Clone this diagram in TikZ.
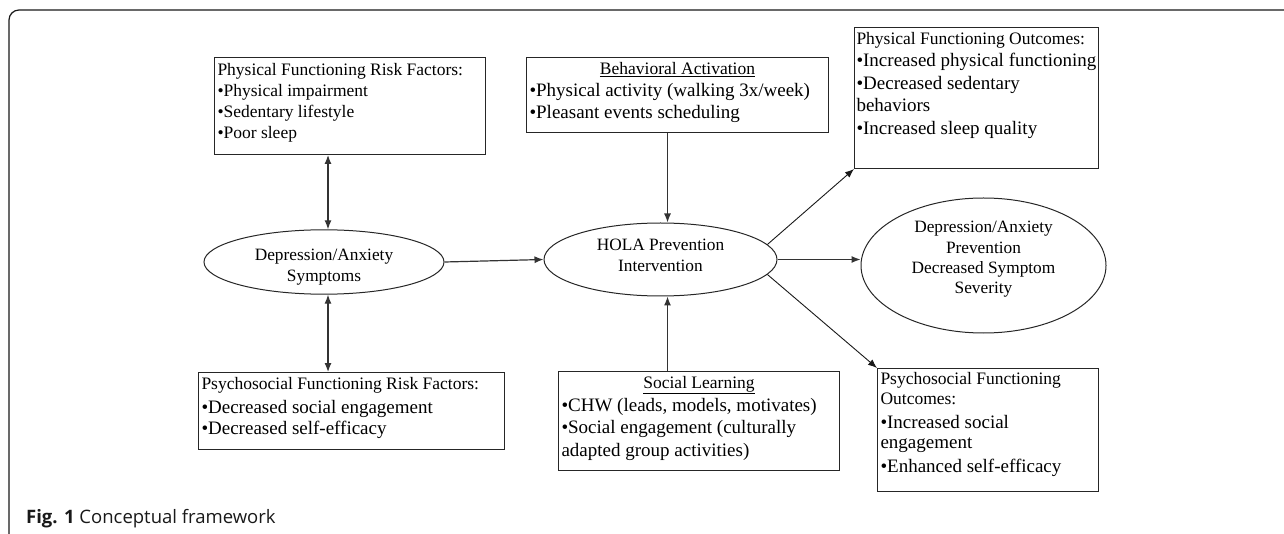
\documentclass[tikz,border=0pt]{standalone}
\usepackage{fontspec}
\setmainfont{Liberation Serif}
\newfontfamily\capfont{Open Sans}
\usetikzlibrary{arrows.meta,shapes.geometric}
\newcommand{\ttl}{\fontsize{17.5}{20}\selectfont}
\newcommand{\bul}{\fontsize{19}{22.5}\selectfont}
\newcommand{\bulsm}{\fontsize{17.5}{21}\selectfont}
\tikzset{
  box/.style={draw=black!85, line width=1pt, rectangle, inner xsep=3pt, inner ysep=0pt, anchor=north west},
  oval/.style={draw=black!85, line width=1pt, ellipse, inner sep=0pt, align=center,
    font=\fontsize{17.3}{21}\selectfont},
  conn/.style={draw=black!80, line width=1.2pt, -{Latex[length=9pt,width=7pt]}},
  thinconn/.style={draw=black!90, line width=0.9pt, -{Latex[length=9pt,width=7pt]}},
  both/.style={draw=black!80, line width=1.2pt, {Latex[length=9pt,width=7pt]}-{Latex[length=9pt,width=7pt]}},
  frame/.style={draw=black!90, line width=1.2pt, rounded corners=10pt}
}
\begin{document}
\begin{tikzpicture}[x=1pt,y=-1pt]
\useasboundingbox (0,0) rectangle (1284,534);
\draw[frame] (1284,10) -- (9,10) -- (9,534);

% boxes
\node[box] (pfrf) at (214,57) {\parbox[c][97pt][t]{265pt}{\raggedright\ttl\rule{0pt}{18.5pt}Physical Functioning Risk Factors:\par\bulsm •Physical impairment\\•Sedentary lifestyle\\•Poor sleep}};

\node[box] (ba) at (526,57) {\parbox[c][75pt][t]{296pt}{\ttl\centering\rule{0pt}{17pt}\underline{Behavioral Activation}\par\raggedright\bul •Physical activity (walking 3x/week)\\[-1pt]•Pleasant events scheduling}};

\node[box, inner xsep=2pt] (pfo) at (854,27) {\parbox[c][141pt][t]{240pt}{\raggedright\ttl\rule{0pt}{17pt}Physical Functioning Outcomes:\par\bul •Increased physical functioning\\•Decreased sedentary\\behaviors\\•Increased sleep quality}};

\node[box] (psyrf) at (198,372) {\parbox[c][77pt][t]{300pt}{\raggedright\ttl\rule{0pt}{16.7pt}Psychosocial Functioning Risk Factors:\par\vspace{1.5pt}\bul •Decreased social engagement\\[-1pt]•Decreased self-efficacy}};

\node[box] (sl) at (558,371) {\parbox[c][99pt][t]{275pt}{\ttl\centering\rule{0pt}{17pt}\underline{Social Learning}\par\raggedright\bul •CHW (leads, models, motivates)\\•Social engagement (culturally\\adapted group activities)}};

\node[box] (psyo) at (877,368) {\parbox[c][123pt][t]{215pt}{\raggedright\fontsize{17.5}{19.5}\selectfont\rule{0pt}{16pt}Psychosocial Functioning\\Outcomes:\par\vspace{3.5pt}\fontsize{19}{20.5}\selectfont •Increased social\\engagement\\[3.5pt]•Enhanced self-efficacy}};

% ellipses
\node[oval, minimum width=240pt, minimum height=60pt] (das) at (324,262) {\rule{0pt}{20.8pt}Depression/Anxiety\\Symptoms};
\node[oval, minimum width=233pt, minimum height=73pt] (hola) at (660.5,259.5) {HOLA Prevention\\Intervention\rule[-7.5pt]{0pt}{0pt}};
\node[oval, minimum width=245pt, minimum height=135pt, font=\fontsize{17.3}{20.4}\selectfont] (dap) at (983.5,265.5) {Depression/Anxiety\\Prevention\\Decreased Symptom\\Severity\rule[-15.8pt]{0pt}{0pt}};

% connectors
\draw[both] ([xshift=4pt]das.north) -- ([xshift=4pt]das.north |- pfrf.south);
\draw[both] ([xshift=4pt]das.south) -- ([xshift=4pt]das.south |- psyrf.north);
\draw[conn] (das.east) -- (hola.west);
\draw[conn] ([xshift=-10pt]ba.south) -- ([xshift=-10pt]ba.south |- hola.north);
\draw[conn] ([xshift=-31.5pt]sl.north) -- ([xshift=-31.5pt]sl.north |- hola.south);
\draw[thinconn] (hola.8) -- (pfo.south west);
\draw[conn] (hola.east) -- (hola.east -| dap.west);
\draw[thinconn] (hola.-8) -- (psyo.north west);

% caption
\node[anchor=base west, inner sep=0pt, font=\capfont\fontsize{18.5}{20}\selectfont, text=black!90] (cap) at (26,523) {\textbf{Fig. 1} Conceptual framework};
\end{tikzpicture}
\end{document}
